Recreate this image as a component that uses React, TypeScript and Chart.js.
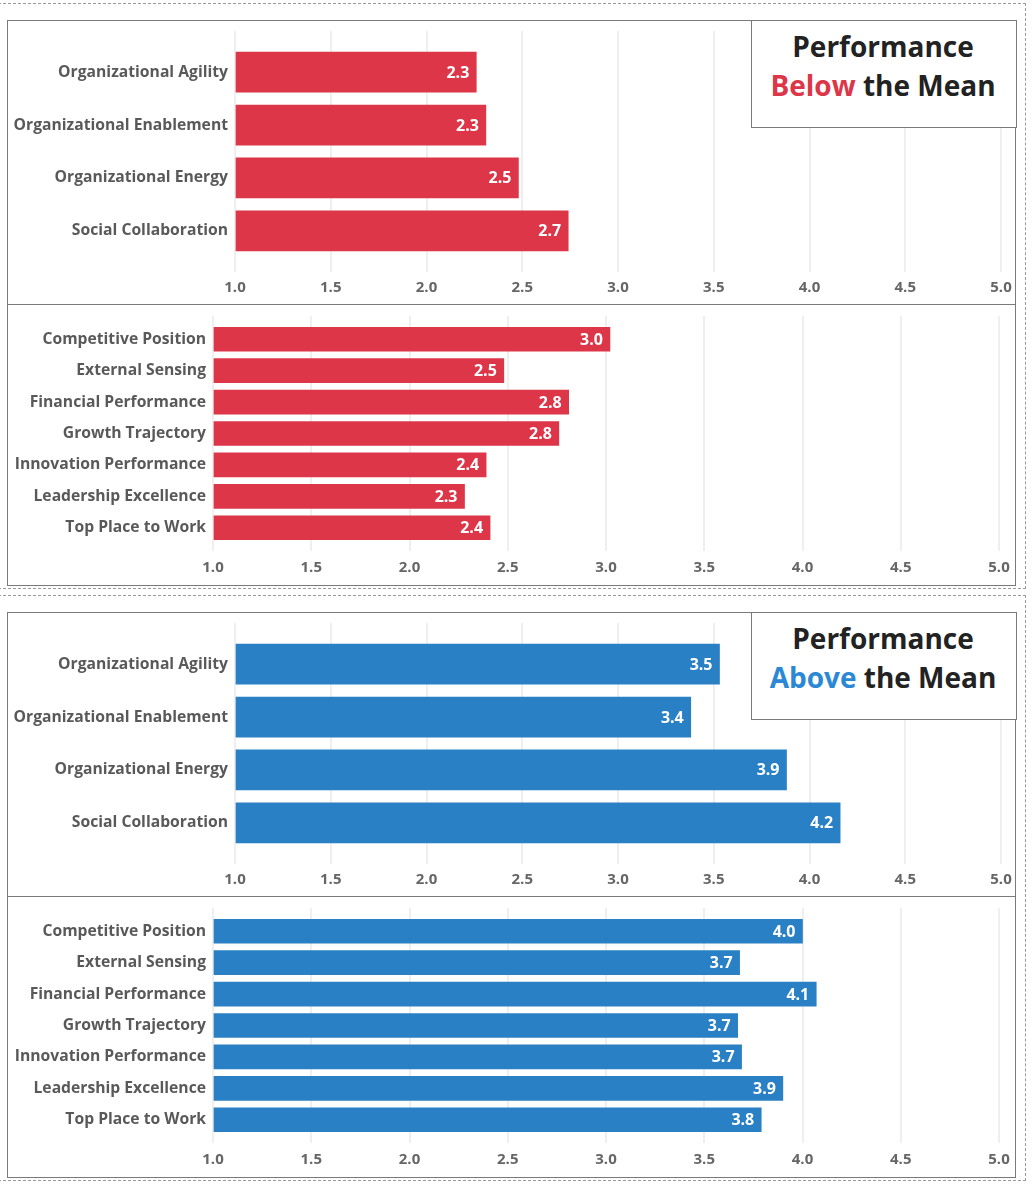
import React, { useEffect, useRef } from "react";
import { Chart, registerables } from "chart.js";

Chart.register(...registerables);

// ---- data ----
const driverLabels = [
  "Organizational Agility",
  "Organizational Enablement",
  "Organizational Energy",
  "Social Collaboration",
];
const outcomeLabels = [
  "Competitive Position",
  "External Sensing",
  "Financial Performance",
  "Growth Trajectory",
  "Innovation Performance",
  "Leadership Excellence",
  "Top Place to Work",
];
const belowDriverValues = [2.26, 2.31, 2.48, 2.74];
const belowOutcomeValues = [3.02, 2.48, 2.81, 2.76, 2.39, 2.28, 2.41];
const aboveDriverValues = [3.53, 3.38, 3.88, 4.16];
const aboveOutcomeValues = [4.0, 3.68, 4.07, 3.67, 3.69, 3.9, 3.79];
const axisMin = 1.0;
const axisMax = 5.0;
const axisStep = 0.5;

const RED = "#DC3648";
const BLUE = "#2A80C4";
const FONT = "'Open Sans', 'Noto Sans', sans-serif";

const valueLabelPlugin = {
  id: "valueLabels",
  afterDatasetsDraw(chart: any) {
    const ctx = chart.ctx;
    const meta = chart.getDatasetMeta(0);
    const data = chart.data.datasets[0].data;
    ctx.save();
    ctx.fillStyle = "#ffffff";
    ctx.font = `bold 16px ${FONT}`;
    ctx.textAlign = "right";
    ctx.textBaseline = "middle";
    meta.data.forEach((bar: any, i: number) => {
      ctx.fillText(Number(data[i]).toFixed(1), bar.x - 7, bar.y + 1);
    });
    ctx.restore();
  },
};

type PanelProps = {
  labels: string[];
  values: number[];
  color: string;
  thickness: number;
  ext: number;
  axisWidth: number;
  padRight: number;
  padTop: number;
  xAxisHeight: number;
  xPad: number;
  height: number;
};

function BarPanel(p: PanelProps) {
  const ref = useRef<HTMLCanvasElement>(null);
  useEffect(() => {
    const chart = new Chart(ref.current as HTMLCanvasElement, {
      type: "bar",
      data: {
        labels: p.labels,
        datasets: [
          {
            data: p.values,
            backgroundColor: p.color,
            base: axisMin,
            barThickness: p.thickness,
            borderWidth: 0,
          } as any,
        ],
      },
      options: {
        indexAxis: "y",
        animation: false,
        responsive: false,
        maintainAspectRatio: false,
        layout: { padding: { top: p.padTop, right: p.padRight, left: 0, bottom: 0 } },
        plugins: { legend: { display: false }, tooltip: { enabled: false } },
        scales: {
          x: {
            type: "linear",
            min: axisMin,
            max: axisMax,
            ticks: {
              stepSize: axisStep,
              callback: (v: any) => Number(v).toFixed(1),
              color: "#666666",
              font: { family: FONT, size: 15, weight: "bold" },
              padding: p.xPad,
            },
            grid: { color: "#efefef", lineWidth: 2, drawTicks: false },
            border: { display: false },
            afterFit: (s: any) => {
              s.height = p.xAxisHeight;
              s.paddingLeft = 0;
              s.paddingRight = 0;
            },
          },
          y: {
            type: "category",
            offset: true,
            grid: { display: false, drawTicks: false },
            border: { display: false },
            ticks: {
              color: "#595959",
              font: { family: FONT, size: 15.7, weight: "bold" },
              padding: 7,
            },
            afterFit: (s: any) => {
              s.width = p.axisWidth;
              s.paddingTop = 0;
              s.paddingBottom = 0;
            },
            afterBuildTicks: (s: any) => {
              s._startValue -= p.ext;
              s._valueRange += 2 * p.ext;
            },
          },
        },
      } as any,
      plugins: [valueLabelPlugin],
    });
    return () => chart.destroy();
  }, []);
  return (
    <canvas
      ref={ref}
      width={1007}
      height={p.height}
      style={{ display: "block", width: 1007, height: p.height }}
    />
  );
}

function Section(props: {
  top: number;
  word: string;
  wordColor: string;
  color: string;
  driverValues: number[];
  outcomeValues: number[];
}) {
  const { top } = props;
  return (
    <>
      <div
        style={{
          position: "absolute",
          left: -2,
          top: top + 3,
          width: 1028,
          height: 586,
          boxSizing: "border-box",
          border: "1px dashed #999",
        }}
      />
      <div
        style={{
          position: "absolute",
          left: 7,
          top: top + 20,
          width: 1009,
          height: 566,
          boxSizing: "border-box",
          border: "1px solid #7a7a7a",
          background: "#fff",
        }}
      >
        <BarPanel
          labels={driverLabels}
          values={props.driverValues}
          color={props.color}
          thickness={40}
          ext={0.279}
          axisWidth={227}
          padRight={14}
          padTop={10}
          xAxisHeight={32}
          xPad={7}
          height={283}
        />
        <div style={{ height: 1, background: "#7a7a7a" }} />
        <BarPanel
          labels={outcomeLabels}
          values={props.outcomeValues}
          color={props.color}
          thickness={24}
          ext={0.24}
          axisWidth={205}
          padRight={16}
          padTop={11}
          xAxisHeight={34}
          xPad={8}
          height={280}
        />
      </div>
      <div
        style={{
          position: "absolute",
          left: 751,
          top: top + 20,
          width: 266,
          height: 108,
          boxSizing: "border-box",
          border: "1px solid #7a7a7a",
          background: "#fff",
          fontFamily: FONT,
          fontWeight: 700,
          fontSize: 28,
          color: "#222",
          textAlign: "center",
          paddingTop: 6,
          paddingRight: 2,
        }}
      >
        <div style={{ lineHeight: "39px" }}>Performance</div>
        <div style={{ lineHeight: "39px" }}>
          <span style={{ color: props.wordColor }}>{props.word}</span> the Mean
        </div>
      </div>
    </>
  );
}

export default function App() {
  return (
    <div
      style={{
        position: "absolute",
        left: 0,
        top: 0,
        width: 1032,
        height: 1196,
        background: "#fff",
        overflow: "hidden",
      }}
    >
      <Section
        top={0}
        word="Below"
        wordColor={RED}
        color={RED}
        driverValues={belowDriverValues}
        outcomeValues={belowOutcomeValues}
      />
      <Section
        top={592}
        word="Above"
        wordColor="#2B88D4"
        color={BLUE}
        driverValues={aboveDriverValues}
        outcomeValues={aboveOutcomeValues}
      />
    </div>
  );
}
